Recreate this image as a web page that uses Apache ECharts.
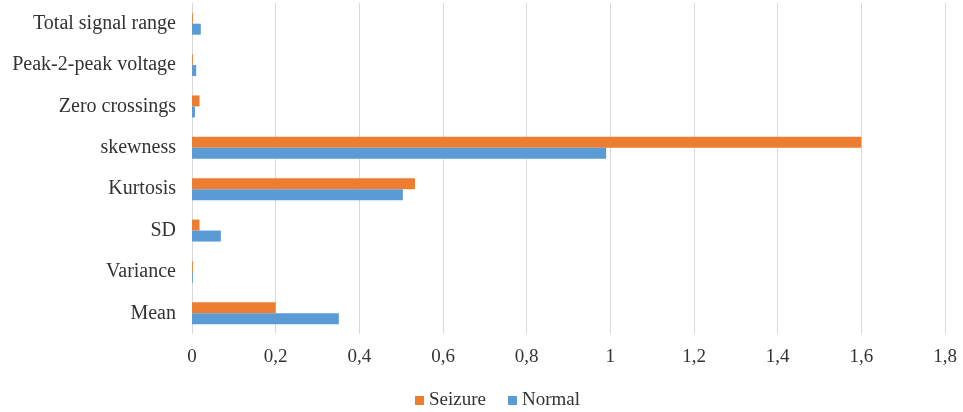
<!DOCTYPE html>
<html><head><meta charset="utf-8">
<script src="https://cdn.jsdelivr.net/npm/echarts@6/dist/echarts.min.js"></script>
<style>html,body{margin:0;padding:0;background:#fff}#c{width:963px;height:412px}</style>
</head><body><div id="c"></div>
<script>
var categories = ['Mean','Variance','SD','Kurtosis','skewness','Zero crossings','Peak-2-peak voltage','Total signal range'];
var seizure = [0.2, 0.002, 0.018, 0.533, 1.6, 0.018, 0.002, 0.002];
var normal = [0.351, 0.002, 0.069, 0.504, 0.99, 0.007, 0.01, 0.021];
var xTicks = [0,0.2,0.4,0.6,0.8,1,1.2,1.4,1.6,1.8];
var chart = echarts.init(document.getElementById('c'));
var font = 'Liberation Serif';
chart.setOption({
  animation:false,
  grid:{left:192,right:18,top:3,bottom:78},
  legend:{data:['Seizure','Normal'],top:386,left:410,itemWidth:9,itemHeight:9,itemGap:22,icon:'rect',
    textStyle:{fontFamily:font,fontSize:19,color:'#333'}},
  xAxis:{type:'value',min:0,max:1.8,interval:0.2,
    axisLine:{show:false},axisTick:{show:false},
    splitLine:{lineStyle:{color:'#d9d9d9'}},
    axisLabel:{fontFamily:font,fontSize:19,color:'#333',margin:14,
      formatter:function(v){return String(Math.round(v*10)/10).replace('.',',');}}},
  yAxis:{type:'category',data:categories,
    axisLine:{show:false},axisTick:{show:false},
    axisLabel:{fontFamily:font,fontSize:20,color:'#333',margin:16}},
  series:[
    {name:'Seizure',type:'bar',data:seizure,itemStyle:{color:'#ED7D31'},barWidth:11,barGap:'0%'},
    {name:'Normal',type:'bar',data:normal,itemStyle:{color:'#5B9BD5'},barWidth:11,barGap:'0%'}
  ]
});
</script></body></html>
